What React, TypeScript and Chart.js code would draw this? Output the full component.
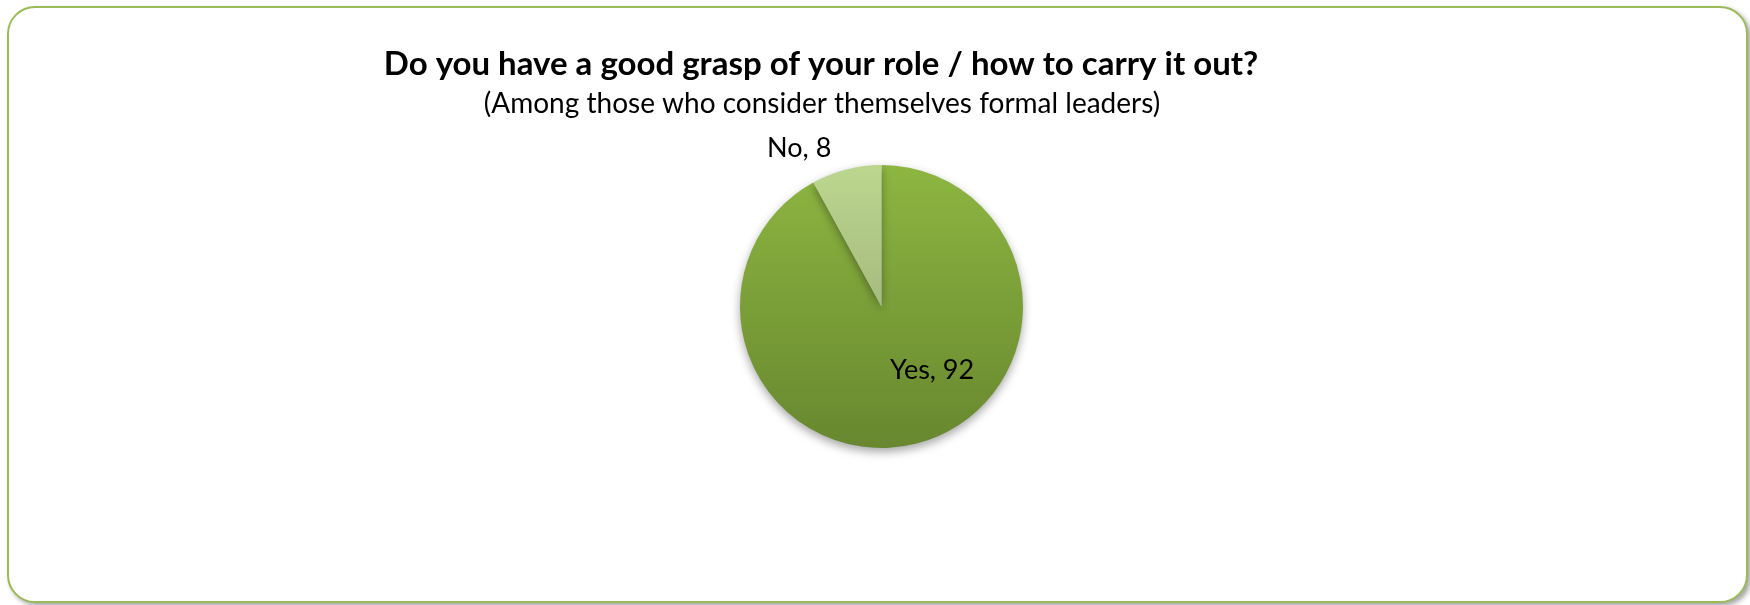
import React, { useEffect, useRef } from "react";
import { Chart, registerables } from "chart.js";

Chart.register(...registerables);

const categories = ["Yes", "No"];
const values = [92, 8];
const titleText = "Do you have a good grasp of your role / how to carry it out?";
const subtitleText = "(Among those who consider themselves formal leaders)";

const FONT = "Lato, 'Open Sans', sans-serif";

export default function App() {
  const ref = useRef<HTMLCanvasElement | null>(null);

  useEffect(() => {
    if (!ref.current) return;

    const titlePlugin = {
      id: "fixedTitles",
      afterDraw(chart: any) {
        const ctx = chart.ctx;
        ctx.save();
        ctx.fillStyle = "#000";
        ctx.textAlign = "center";
        ctx.textBaseline = "middle";
        ctx.font = `bold 33px ${FONT}`;
        ctx.fillText(titleText, 821, 64);
        ctx.font = `28px ${FONT}`;
        ctx.fillText(subtitleText, 822, 104);
        ctx.restore();
      },
    };

    const shadowPlugin = {
      id: "pieShadow",
      beforeDatasetDraw(chart: any) {
        const ctx = chart.ctx;
        ctx.save();
        ctx.shadowColor = "rgba(0,0,0,0.35)";
        ctx.shadowBlur = 10;
        ctx.shadowOffsetX = 0;
        ctx.shadowOffsetY = 4;
      },
      afterDatasetDraw(chart: any) {
        chart.ctx.restore();
      },
    };

    const labelPlugin = {
      id: "sliceLabels",
      afterDatasetsDraw(chart: any) {
        const ctx = chart.ctx;
        const meta = chart.getDatasetMeta(0);
        ctx.save();
        ctx.fillStyle = "#000";
        ctx.font = `27px ${FONT}`;
        meta.data.forEach((arc: any, i: number) => {
          const p = arc.getProps(["x", "y", "startAngle", "endAngle", "outerRadius"], true);
          const mid = (p.startAngle + p.endAngle) / 2;
          const text = `${categories[i]}, ${values[i]}`;
          if (i === 1) {
            const px = p.x + Math.cos(mid) * p.outerRadius;
            const py = p.y + Math.sin(mid) * p.outerRadius;
            ctx.textAlign = "right";
            ctx.textBaseline = "bottom";
            ctx.fillText(text, px - 15, py - 8);
          } else {
            const px = p.x + Math.cos(mid) * p.outerRadius * 0.5;
            const py = p.y + Math.sin(mid) * p.outerRadius * 0.5;
            ctx.textAlign = "center";
            ctx.textBaseline = "middle";
            ctx.fillText(text, px + 33, py - 5);
          }
        });
        ctx.restore();
      },
    };

    const makeFill = (ctx: any, top: string, bottom: string) => {
      const chart = ctx.chart;
      const area = chart.chartArea;
      if (!area) return top;
      const cy = (area.top + area.bottom) / 2;
      const r = 141.5;
      const g = chart.ctx.createLinearGradient(0, cy - r, 0, cy + r);
      g.addColorStop(0, top);
      g.addColorStop(1, bottom);
      return g;
    };

    const chart = new Chart(ref.current, {
      type: "pie",
      data: {
        labels: categories,
        datasets: [
          {
            data: values,
            backgroundColor: (c: any) =>
              c.dataIndex === 0
                ? makeFill(c, "#8db641", "#68872f")
                : makeFill(c, "#bcd68f", "#8fa070"),
            borderWidth: 0,
            radius: 141.5,
          } as any,
        ],
      },
      options: {
        animation: false,
        responsive: false,
        maintainAspectRatio: false,
        layout: { padding: { left: 13, right: 0, top: 108, bottom: 100 } },
        plugins: {
          legend: { display: false },
          tooltip: { enabled: false },
          title: { display: false },
        },
      },
      plugins: [shadowPlugin, labelPlugin, titlePlugin],
    });

    return () => chart.destroy();
  }, []);

  return (
    <div style={{ position: "absolute", left: 0, top: 0, width: 1750, height: 605, background: "#fff" }}>
      <div
        style={{
          position: "absolute",
          left: 7,
          top: 6,
          width: 1737,
          height: 593,
          border: "2px solid #9bbb59",
          borderRadius: 28,
          boxShadow: "3px 3px 5px rgba(0,0,0,0.35)",
          background: "#fff",
        }}
      />
      <canvas
        ref={ref}
        width={1750}
        height={605}
        style={{ position: "absolute", left: 0, top: 0, width: 1750, height: 605 }}
      />
    </div>
  );
}
